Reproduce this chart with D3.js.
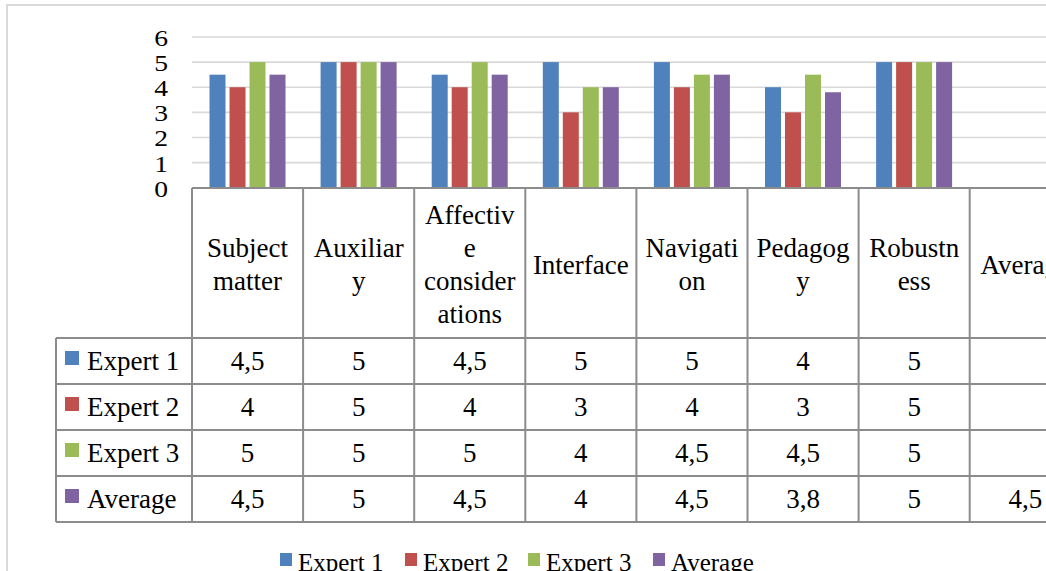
<!DOCTYPE html>
<html>
<head>
<meta charset="utf-8">
<script src="https://cdn.jsdelivr.net/npm/d3@7/dist/d3.min.js"></script>
<style>
  html, body { margin: 0; padding: 0; background: #fff; overflow: hidden; }
  svg { display: block; font-family: "Liberation Serif", "Times New Roman", serif; }
</style>
</head>
<body>
<svg id="chart" width="1046" height="571"></svg>
<script>
// Criteria rated by the experts (header cells are wrapped the way the data table shows them)
const categories = ["Subject matter", "Auxiliary", "Affective considerations", "Interface",
                    "Navigation", "Pedagogy", "Robustness", "Average"];
const categoryLines = [["Subject", "matter"], ["Auxiliar", "y"], ["Affectiv", "e", "consider", "ations"],
                       ["Interface"], ["Navigati", "on"], ["Pedagog", "y"], ["Robustn", "ess"], ["Average"]];

const seriesNames = ["Expert 1", "Expert 2", "Expert 3", "Average"];
const expert1 = [4.5, 5, 4.5, 5, 5, 4, 5, null];
const expert2 = [4, 5, 4, 3, 4, 3, 5, null];
const expert3 = [5, 5, 5, 4, 4.5, 4.5, 5, null];
const average = [4.5, 5, 4.5, 4, 4.5, 3.8, 5, 4.5];
const seriesValues = [expert1, expert2, expert3, average];
const seriesColors = ["#4F81BD", "#C0504D", "#9BBB59", "#8064A2"];

const yTicks = [0, 1, 2, 3, 4, 5, 6];

const svg = d3.select("#chart");
const gridColor = "#d9d9d9";
const tableColor = "#8c8c8c";

// outer chart frame
svg.append("rect")
  .attr("x", 7).attr("y", 5).attr("width", 1200).attr("height", 700)
  .attr("fill", "none").attr("stroke", gridColor).attr("stroke-width", 2);

// layout
const plotLeft = 192, colW = 111.1;
const plotTop = 37, plotBottom = 187.7;
const headerBottom = 338, rowH = 46;
const tableLeft = 56;
const tableBottom = headerBottom + rowH * seriesNames.length;

const x0 = d3.scaleBand().domain(categories)
  .range([plotLeft, plotLeft + colW * categories.length]).padding(0);
const x1 = d3.scaleBand().domain(seriesNames).range([17.5, 93.5]).paddingInner(0.2);
const y = d3.scaleLinear().domain([0, 6]).range([plotBottom, plotTop]);

// gridlines
svg.append("g").selectAll("line").data(yTicks.filter(t => t > 0)).join("line")
  .attr("x1", plotLeft).attr("x2", 1300)
  .attr("y1", d => y(d)).attr("y2", d => y(d))
  .attr("stroke", gridColor).attr("stroke-width", 1.6);

// y axis labels
const yAxis = d3.axisLeft(y).tickValues(yTicks).tickSize(0).tickPadding(0).tickFormat(d3.format("d"));
const yg = svg.append("g").attr("transform", "translate(168,0)").call(yAxis);
yg.select(".domain").remove();
yg.selectAll("text")
  .attr("font-family", "Liberation Serif, Times New Roman, serif")
  .attr("font-size", 24).attr("fill", "#000")
  .attr("dy", null).attr("y", 9)
  .attr("transform", "scale(1.15,1)");
yg.selectAll(".tick").attr("transform", d => `translate(0,${y(d)})`);

// bars
const groups = svg.append("g").selectAll("g").data(categories).join("g")
  .attr("transform", d => `translate(${x0(d)},0)`);
groups.selectAll("rect")
  .data((c, ci) => seriesNames.map((s, si) => ({ s, v: seriesValues[si][ci], color: seriesColors[si] })))
  .join("rect")
  .filter(d => d.v !== null)
  .attr("x", d => x1(d.s)).attr("width", x1.bandwidth())
  .attr("y", d => y(d.v)).attr("height", d => y(0) - y(d.v))
  .attr("fill", d => d.color);

// data table
const table = svg.append("g");
const tStroke = g => g.attr("stroke", tableColor).attr("stroke-width", 2);
// horizontal lines
table.append("line").attr("x1", plotLeft).attr("x2", 1300)
  .attr("y1", headerBottom - 150).attr("y2", headerBottom - 150).call(tStroke);
d3.range(seriesNames.length + 1).forEach(i => {
  table.append("line").attr("x1", tableLeft).attr("x2", 1300)
    .attr("y1", headerBottom + i * rowH).attr("y2", headerBottom + i * rowH).call(tStroke);
});
// vertical lines
table.append("line").attr("x1", tableLeft).attr("x2", tableLeft)
  .attr("y1", headerBottom).attr("y2", tableBottom).call(tStroke);
categories.concat([null]).forEach((c, i) => {
  const xx = plotLeft + i * colW;
  table.append("line").attr("x1", xx).attr("x2", xx)
    .attr("y1", headerBottom - 150).attr("y2", tableBottom).call(tStroke);
});

// header labels
const lineH = 33, headerMid = 273.5;
categories.forEach((c, ci) => {
  const lines = categoryLines[ci];
  const cx = x0(c) + colW / 2;
  const t = table.append("text").attr("text-anchor", "middle")
    .attr("font-size", 27).attr("fill", "#000");
  lines.forEach((ln, li) => {
    t.append("tspan").attr("x", cx)
      .attr("y", headerMid + (li - (lines.length - 1) / 2) * lineH)
      .text(ln);
  });
});

// row labels with legend keys
const fmt = v => String(v).replace(".", ",");
seriesNames.forEach((s, si) => {
  const rowMid = headerBottom + si * rowH + rowH / 2;
  table.append("rect").attr("x", 65).attr("y", rowMid - 10).attr("width", 14).attr("height", 14)
    .attr("fill", seriesColors[si]);
  table.append("text").attr("x", 87).attr("y", rowMid + 9)
    .attr("font-size", 27).attr("fill", "#000").text(s);
  categories.forEach((c, ci) => {
    const v = seriesValues[si][ci];
    if (v === null) return;
    table.append("text").attr("x", x0(c) + colW / 2).attr("y", rowMid + 9)
      .attr("text-anchor", "middle").attr("font-size", 27).attr("fill", "#000").text(fmt(v));
  });
});

// legend
const legendX = [280, 405, 528, 653];
const legend = svg.append("g");
seriesNames.forEach((s, si) => {
  legend.append("rect").attr("x", legendX[si]).attr("y", 553).attr("width", 12).attr("height", 13)
    .attr("fill", seriesColors[si]);
  legend.append("text").attr("x", legendX[si] + 18).attr("y", 571)
    .attr("font-size", 25).attr("fill", "#000").text(s);
});
</script>
</body>
</html>
